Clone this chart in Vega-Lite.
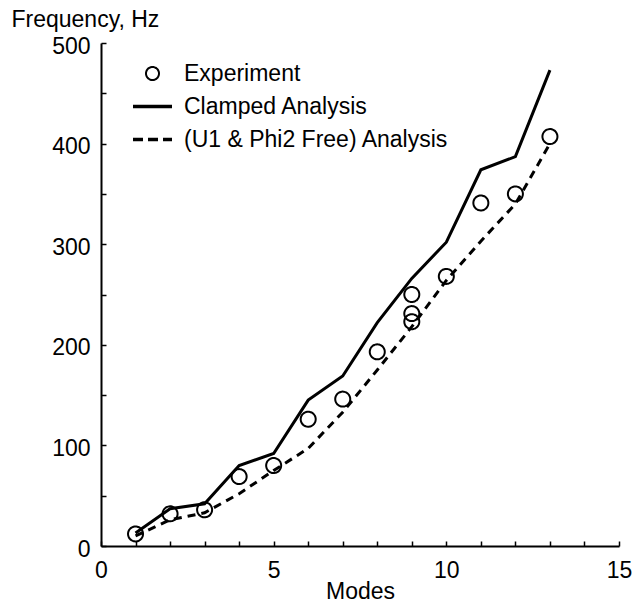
{
  "$schema": "https://vega.github.io/schema/vega-lite/v6.json",
  "width": 518,
  "height": 503,
  "autosize": {"type": "none"},
  "padding": {"left": 101, "top": 43, "right": 25, "bottom": 58},
  "background": "white",
  "config": {
    "view": {"stroke": null},
    "font": "Liberation Sans",
    "axis": {
      "grid": false,
      "domainColor": "black",
      "domainWidth": 2,
      "tickColor": "black",
      "tickWidth": 1.5,
      "labelColor": "black",
      "titleColor": "black",
      "labelFontSize": 23,
      "titleFontSize": 23,
      "titleFontWeight": "normal",
      "labelFont": "Liberation Sans",
      "titleFont": "Liberation Sans",
      "labelFlush": false,
      "labelOverlap": false
    }
  },
  "datasets": {
    "exp": [
      {"mode": 1, "freq": 12, "series": "Experiment"},
      {"mode": 2, "freq": 32, "series": "Experiment"},
      {"mode": 3, "freq": 36, "series": "Experiment"},
      {"mode": 4, "freq": 69, "series": "Experiment"},
      {"mode": 5, "freq": 80, "series": "Experiment"},
      {"mode": 6, "freq": 126, "series": "Experiment"},
      {"mode": 7, "freq": 146, "series": "Experiment"},
      {"mode": 8, "freq": 193, "series": "Experiment"},
      {"mode": 9, "freq": 250, "series": "Experiment"},
      {"mode": 9, "freq": 231, "series": "Experiment"},
      {"mode": 9, "freq": 223, "series": "Experiment"},
      {"mode": 10, "freq": 268, "series": "Experiment"},
      {"mode": 11, "freq": 341, "series": "Experiment"},
      {"mode": 12, "freq": 350, "series": "Experiment"},
      {"mode": 13, "freq": 407, "series": "Experiment"}
    ],
    "clamped": [
      {"mode": 1, "freq": 13},
      {"mode": 2, "freq": 37},
      {"mode": 3, "freq": 42},
      {"mode": 4, "freq": 80},
      {"mode": 5, "freq": 92},
      {"mode": 6, "freq": 145},
      {"mode": 7, "freq": 169},
      {"mode": 8, "freq": 222},
      {"mode": 9, "freq": 266},
      {"mode": 10, "freq": 302},
      {"mode": 11, "freq": 374},
      {"mode": 12, "freq": 387},
      {"mode": 13, "freq": 473}
    ],
    "free": [
      {"mode": 1, "freq": 10},
      {"mode": 2, "freq": 26},
      {"mode": 3, "freq": 33},
      {"mode": 4, "freq": 52},
      {"mode": 5, "freq": 75},
      {"mode": 6, "freq": 97},
      {"mode": 7, "freq": 133},
      {"mode": 8, "freq": 175},
      {"mode": 9, "freq": 218},
      {"mode": 10, "freq": 264},
      {"mode": 11, "freq": 303},
      {"mode": 12, "freq": 340},
      {"mode": 13, "freq": 400}
    ]
  },
  "layer": [
    {
      "data": {"name": "clamped"},
      "mark": {"type": "line", "color": "black", "strokeWidth": 3},
      "encoding": {
        "x": {
          "field": "mode", "type": "quantitative",
          "scale": {"domain": [0, 15], "nice": false, "zero": false},
          "axis": {
            "orient": "bottom",
            "values": [0, 1, 2, 3, 4, 5, 6, 7, 8, 9, 10, 11, 12, 13, 14, 15],
            "tickCount": 40,
            "format": "d",
            "labelExpr": "datum.value % 5 === 0 ? datum.label : ''",
            "labelOverlap": false,
            "ticks": true, "tickSize": -5, "domain": true,
            "labelPadding": 18, "labelBaseline": "top",
            "title": "Modes", "titleY": 52, "titleBaseline": "alphabetic",
            "encode": {"ticks": {
              "enter": {"y2": {"signal": "datum.value % 5 === 0 ? -10 : -5"}},
              "update": {"y2": {"signal": "datum.value % 5 === 0 ? -10 : -5"}}
            }}
          }
        },
        "y": {
          "field": "freq", "type": "quantitative",
          "scale": {"domain": [0, 500], "nice": false, "zero": false},
          "axis": {
            "orient": "left",
            "values": [0, 50, 100, 150, 200, 250, 300, 350, 400, 450, 500],
            "tickCount": 40,
            "format": "d",
            "labelExpr": "datum.value % 100 === 0 ? datum.label : ''",
            "labelOverlap": false,
            "ticks": true, "tickSize": -5, "domain": true,
            "labelPadding": 16, "labelBaseline": "middle", "labelOffset": 3,
            "title": "Frequency, Hz", "titleAngle": 0, "titleX": -90, "titleY": -17,
            "titleAlign": "left", "titleBaseline": "alphabetic",
            "encode": {"ticks": {
              "enter": {"x2": {"signal": "datum.value % 100 === 0 ? 8 : 5"}},
              "update": {"x2": {"signal": "datum.value % 100 === 0 ? 8 : 5"}}
            }}
          }
        }
      }
    },
    {
      "data": {"name": "free"},
      "mark": {"type": "line", "color": "black", "strokeWidth": 3, "strokeDash": [8, 6]},
      "encoding": {
        "x": {"field": "mode", "type": "quantitative"},
        "y": {"field": "freq", "type": "quantitative"}
      }
    },
    {
      "data": {"name": "exp"},
      "mark": {"type": "point", "filled": false, "color": "black", "size": 225, "opacity": 1},
      "encoding": {
        "x": {"field": "mode", "type": "quantitative"},
        "y": {"field": "freq", "type": "quantitative"},
        "shape": {
          "field": "series", "type": "nominal",
          "scale": {
            "domain": ["Experiment", "Clamped Analysis", "(U1 & Phi2 Free) Analysis"],
            "range": ["circle", "M-3,0L3,0", "M-3,0L3,0"]
          },
          "legend": {
            "orient": "none", "legendX": 40, "legendY": 19, "title": null,
            "padding": 0, "symbolSize": 169, "symbolStrokeColor": "black",
            "labelFontSize": 23, "labelFont": "Liberation Sans", "labelColor": "black", "labelLimit": 500,
            "labelOffset": 20, "rowPadding": 9
          }
        },
        "strokeDash": {
          "field": "series", "type": "nominal",
          "scale": {
            "domain": ["Experiment", "Clamped Analysis", "(U1 & Phi2 Free) Analysis"],
            "range": [[1, 0], [1, 0], [10, 5]]
          }
        },
        "strokeWidth": {
          "field": "series", "type": "nominal",
          "scale": {
            "type": "ordinal",
            "domain": ["Experiment", "Clamped Analysis", "(U1 & Phi2 Free) Analysis"],
            "range": [2, 3.5, 3.5]
          }
        }
      }
    }
  ]
}
